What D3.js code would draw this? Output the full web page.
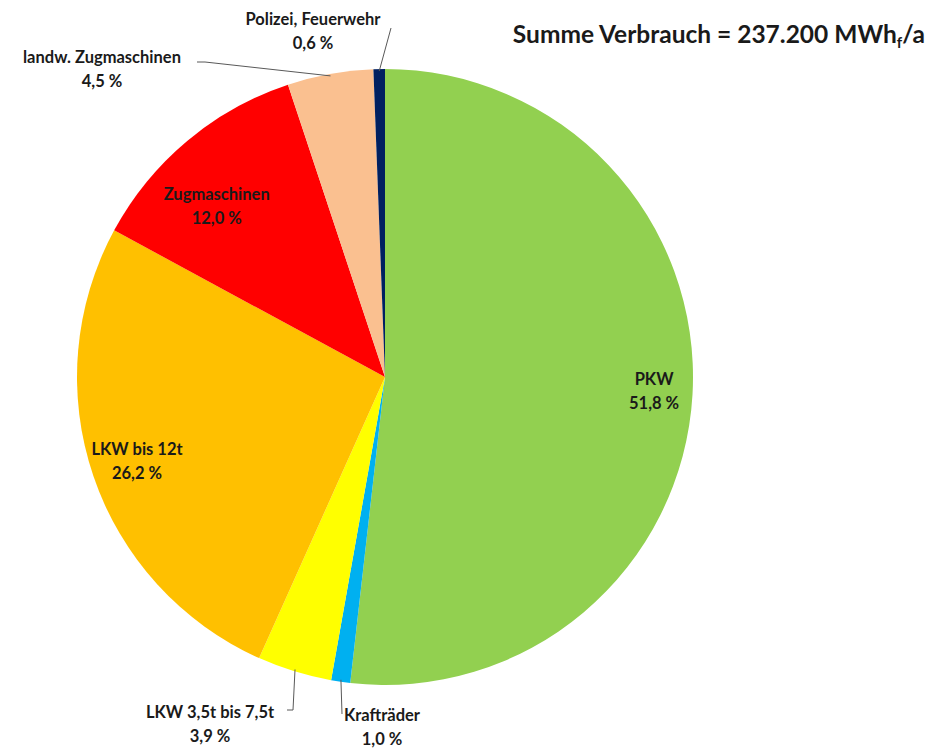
<!DOCTYPE html>
<html>
<head>
<meta charset="utf-8">
<script src="https://cdn.jsdelivr.net/npm/d3@7"></script>
<style>
  body { margin: 0; background: #fff; }
  text { font-family: Lato, "Open Sans", sans-serif; font-weight: bold; fill: #1a1a1a; }
</style>
</head>
<body>
<div id="chart"></div>
<script>
// data
var categories = ["PKW", "Krafträder", "LKW 3,5t bis 7,5t", "LKW bis 12t", "Zugmaschinen", "landw. Zugmaschinen", "Polizei, Feuerwehr"];
var shares = [51.8, 1.0, 3.9, 26.2, 12.0, 4.5, 0.6];
var colors = ["#92D050", "#00B0F0", "#FFFF00", "#FFC000", "#FF0000", "#FAC090", "#002060"];
var totalText = "237.200";

var svgWidth = 935;
var svgHeight = 751;
var cx = 385, cy = 377, radius = 308;

// label layout: inside labels by radius factor (+ nudge), outside ones by anchor point + leader elbow
var labelLayout = [
    { inside: true, k: 0.875, dx: 0, dy: 0 },
    { x: 382, y: 721, line: [[342, 714]] },
    { x: 210, y: 718, line: [[293, 710], [287, 710]] },
    { inside: true, k: 0.85, dx: 0, dy: 1 },
    { inside: true, k: 0.78, dx: -14, dy: 14 },
    { x: 102, y: 63, line: [[205, 62], [197, 62]] },
    { x: 313, y: 25, line: [[391, 28]] }
];

var svg = d3.select("#chart")
    .append("svg")
    .attr("width", svgWidth)
    .attr("height", svgHeight);

var pieGroup = svg.append("g")
    .attr("transform", `translate(${cx}, ${cy})`);

var pie = d3.pie().sort(null).value(d => d);
var arcs = pie(shares);

var arc = d3.arc().innerRadius(0).outerRadius(radius);

pieGroup.selectAll("path")
    .data(arcs)
    .enter()
    .append("path")
    .attr("d", arc)
    .attr("fill", (d, i) => colors[i]);

function polar(angle, r) {
    return [Math.sin(angle) * r, -Math.cos(angle) * r];
}

// leader lines
arcs.forEach(function (d, i) {
    var lay = labelLayout[i];
    if (lay.inside) return;
    var mid = (d.startAngle + d.endAngle) / 2;
    var p0 = polar(mid, radius - 2);
    var pts = [[cx + p0[0], cy + p0[1]]].concat(lay.line);
    svg.append("path")
        .attr("d", d3.line()(pts))
        .attr("fill", "none")
        .attr("stroke", "#595959")
        .attr("stroke-width", 1);
});

// labels
arcs.forEach(function (d, i) {
    var lay = labelLayout[i];
    var x, y;
    if (lay.inside) {
        var mid = (d.startAngle + d.endAngle) / 2;
        var p = polar(mid, radius * lay.k);
        x = cx + p[0] + lay.dx;
        y = cy + p[1] - 7 + lay.dy;
    } else {
        x = lay.x;
        y = lay.y;
    }
    var t = svg.append("text")
        .attr("x", x)
        .attr("y", y)
        .attr("text-anchor", "middle")
        .attr("font-size", "16.5px");
    t.append("tspan").attr("x", x).text(categories[i]);
    t.append("tspan").attr("x", x).attr("dy", 24)
        .text(d3.format(".1f")(shares[i]).replace(".", ",") + " %");
});

// title
var title = svg.append("text")
    .attr("x", 925)
    .attr("y", 43)
    .attr("text-anchor", "end")
    .attr("font-size", "24.5px");
title.append("tspan").text("Summe Verbrauch = " + totalText + " MWh");
title.append("tspan").attr("font-size", "15px").attr("dy", 5).text("f");
title.append("tspan").attr("dy", -5).text("/a");
</script>
</body>
</html>
